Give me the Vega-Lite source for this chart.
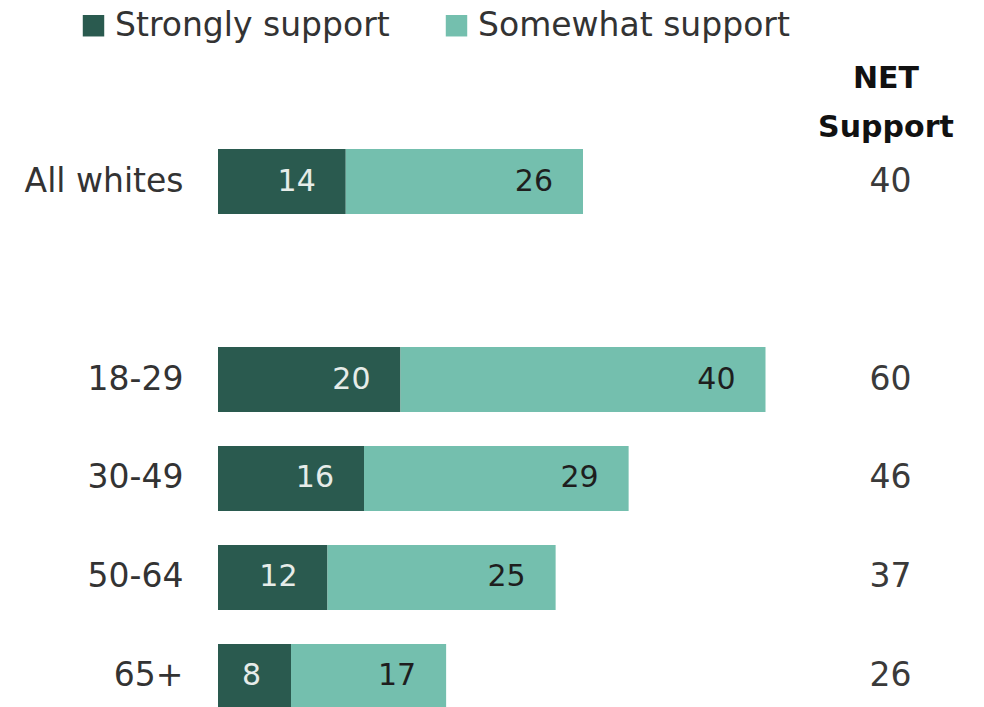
{
  "$schema": "https://vega.github.io/schema/vega-lite/v6.json",
  "autosize": "none",
  "width": 730,
  "height": 560,
  "padding": {"left": 218, "top": 149, "right": 36, "bottom": 0},
  "background": "white",
  "config": {
    "view": {"stroke": null},
    "font": "DejaVu Sans"
  },
  "datasets": {
    "bars": [
      {"group": "All whites", "type": "Strongly support", "ord": 1, "value": 14},
      {"group": "All whites", "type": "Somewhat support", "ord": 2, "value": 26},
      {"group": "18-29", "type": "Strongly support", "ord": 1, "value": 20},
      {"group": "18-29", "type": "Somewhat support", "ord": 2, "value": 40},
      {"group": "30-49", "type": "Strongly support", "ord": 1, "value": 16},
      {"group": "30-49", "type": "Somewhat support", "ord": 2, "value": 29},
      {"group": "50-64", "type": "Strongly support", "ord": 1, "value": 12},
      {"group": "50-64", "type": "Somewhat support", "ord": 2, "value": 25},
      {"group": "65+", "type": "Strongly support", "ord": 1, "value": 8},
      {"group": "65+", "type": "Somewhat support", "ord": 2, "value": 17}
    ],
    "net": [
      {"group": "All whites", "net": 40},
      {"group": "18-29", "net": 60},
      {"group": "30-49", "net": 46},
      {"group": "50-64", "net": 37},
      {"group": "65+", "net": 26}
    ],
    "header": [
      {"group": "All whites", "h": "NET\nSupport"}
    ]
  },
  "layer": [
    {
      "data": {"name": "bars"},
      "transform": [
        {"stack": "value", "groupby": ["group"], "sort": [{"field": "ord", "order": "ascending"}], "as": ["x0", "x1"]}
      ],
      "layer": [
        {
          "mark": {"type": "bar"},
          "encoding": {
            "y": {
              "field": "group", "type": "nominal",
              "scale": {"domain": ["All whites", " ", "18-29", "30-49", "50-64", "65+"], "paddingInner": 0.343, "paddingOuter": 0},
              "axis": {"title": null, "ticks": false, "domain": false, "labelPadding": 35, "labelFontSize": 33, "labelColor": "#333333", "labelFont": "DejaVu Sans"}
            },
            "x": {"field": "x0", "type": "quantitative", "scale": {"domain": [0, 80]}, "axis": null},
            "x2": {"field": "x1"},
            "color": {
              "field": "type", "type": "nominal",
              "scale": {"domain": ["Strongly support", "Somewhat support"], "range": ["#2a5a4f", "#74bfae"]},
              "legend": {
                "title": null, "orient": "none", "direction": "horizontal",
                "legendX": -141, "legendY": -140,
                "symbolType": "square", "symbolSize": 460, "symbolStrokeWidth": 0,
                "labelFontSize": 33, "labelColor": "#333333", "labelOffset": 5,
                "columnPadding": 50, "labelLimit": 400
              }
            }
          }
        },
        {
          "mark": {"type": "text", "align": "right", "baseline": "middle", "dx": -30, "fontSize": 30},
          "encoding": {
            "y": {"field": "group", "type": "nominal"},
            "x": {"field": "x1", "type": "quantitative"},
            "text": {"field": "value", "type": "quantitative"},
            "color": {
              "condition": {"test": "datum.type === 'Strongly support'", "value": "#e6ece9"},
              "value": "#1e1e1e"
            }
          }
        }
      ]
    },
    {
      "data": {"name": "net"},
      "mark": {"type": "text", "align": "center", "baseline": "middle", "fontSize": 33, "color": "#3a3a3a"},
      "encoding": {
        "y": {"field": "group", "type": "nominal"},
        "x": {"datum": 73.7, "type": "quantitative"},
        "text": {"field": "net", "type": "quantitative"}
      }
    },
    {
      "data": {"name": "header"},
      "mark": {"type": "text", "align": "center", "baseline": "alphabetic", "fontSize": 30, "fontWeight": "bold", "color": "#111111", "lineBreak": "\n", "lineHeight": 49, "dy": -94},
      "encoding": {
        "y": {"field": "group", "type": "nominal"},
        "x": {"datum": 73.2, "type": "quantitative"},
        "text": {"field": "h", "type": "nominal"}
      }
    }
  ]
}
